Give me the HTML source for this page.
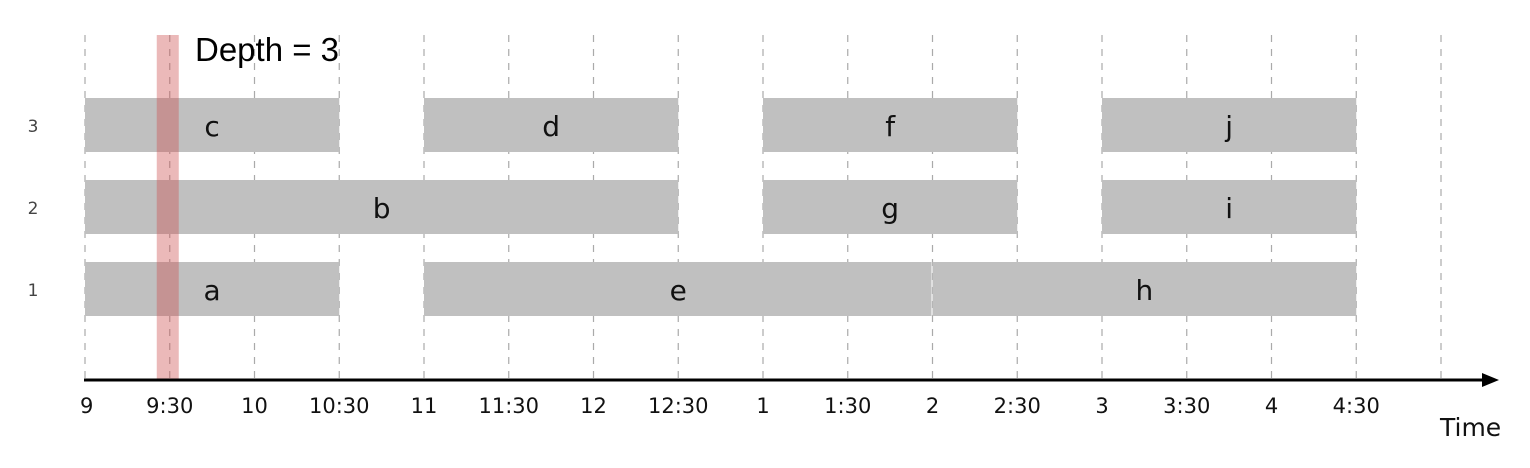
<!DOCTYPE html>
<html><head><meta charset="utf-8"><style>
body{margin:0;background:#fff;width:1530px;height:468px;overflow:hidden}
svg{display:block}
.lbl{font-family:"Comic Sans MS","DejaVu Sans",sans-serif;font-size:28px;fill:#111}
.tick{font-family:"DejaVu Sans",sans-serif;font-size:21px;fill:#111}
</style></head><body>
<svg id="chart" width="1530" height="468">
<g id="grid"></g><g id="bars"></g><g id="axis"></g>
</svg>
<script>
const tickLabels=["9","9:30","10","10:30","11","11:30","12","12:30","1","1:30","2","2:30","3","3:30","4","4:30",""];
const names=["a","b","c","d","e","f","g","h","i","j"];
const starts=[0,0,0,2,2,4,4,5,6,6];
const ends=[1.5,3.5,1.5,3.5,5,5.5,5.5,7.5,7.5,7.5];
const rows=[1,2,3,3,1,3,2,1,2,3];
const rowLabels=[1,2,3];
const probe=0.5;
const depth=3;
const NS="http://www.w3.org/2000/svg";
const x=t=>85+169.5*t;
const y=r=>({1:262,2:180,3:98})[r];
function mk(tag,attrs,parent,text){const e=document.createElementNS(NS,tag);for(const k in attrs)e.setAttribute(k,attrs[k]);if(text!==undefined)e.textContent=text;parent.appendChild(e);return e;}
const grid=document.getElementById('grid'),bars=document.getElementById('bars'),axis=document.getElementById('axis');
tickLabels.forEach((l,i)=>{const t=i*0.5;
 const g=mk('line',{x1:x(t),x2:x(t),y1:35,y2:379,stroke:'#aaa','stroke-width':1.2,'stroke-dasharray':'7,7'},grid);
 
 
 if(l){const tl=mk('text',{x:x(t),y:413,'text-anchor':i===0?'start':'middle',class:'tick'},axis,l);
 if(i===0)tl.setAttribute('x',x(t)-5);
 
 }
});
names.forEach((n,i)=>{
 const r=mk('rect',{x:x(starts[i]),y:y(rows[i]),width:x(ends[i])-x(starts[i])-(ends[i]===5?1:0),height:54,fill:'#c0c0c0'},bars);
 
 
 const t=mk('text',{x:(x(starts[i])+x(ends[i]))/2,y:y(rows[i])+38,'text-anchor':'middle',class:'lbl'},bars,n);
 
 
});
rowLabels.forEach(r=>{const t=mk('text',{x:33,y:y(r)+34,'text-anchor':'middle','font-family':'DejaVu Sans, sans-serif','font-size':17,fill:'#444'},axis,String(r));
 
 });
const band=mk('rect',{x:x(probe)-13,y:35,width:22,height:344,fill:'rgba(205,80,80,0.4)'},axis);


const dl=mk('text',{x:195,y:61,'font-family':'Liberation Sans, sans-serif','font-size':33,fill:'#000'},axis,'Depth = '+depth);


const ax=mk('line',{x1:84,x2:1485,y1:380,y2:380,stroke:'#000','stroke-width':3},axis);


const ar=mk('polygon',{points:'1482,373 1499,380 1482,387',fill:'#000'},axis);


const tt=mk('text',{x:1440,y:436,class:'lbl',style:'font-size:25px'},axis,'Time');


</script>
</body></html>
